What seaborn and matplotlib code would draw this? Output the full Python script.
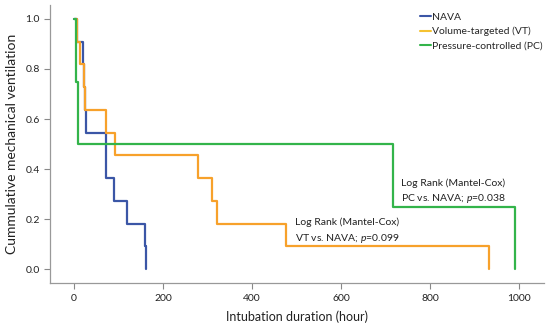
import pandas as pd
import seaborn as sns
import matplotlib.pyplot as plt
from matplotlib.lines import Line2D

# step data (time in hours, fraction still ventilated)
nava_t = [0, 6, 20, 22, 24, 27, 72, 90, 119, 160, 162]
nava_s = [1.0, 0.909, 0.818, 0.727, 0.636, 0.545, 0.364, 0.273, 0.182, 0.091, 0.0]
vt_t = [2, 7, 13, 22, 24, 72, 92, 279, 311, 322, 477, 933]
vt_s = [1.0, 0.909, 0.818, 0.727, 0.636, 0.545, 0.455, 0.364, 0.273, 0.182, 0.091, 0.0]
pc_t = [0, 5, 8, 717, 991]
pc_s = [1.0, 0.75, 0.5, 0.25, 0.0]

groups = ['NAVA', 'Volume-targeted (VT)', 'Pressure-controlled (PC)']
colors = ['#3b56a6', '#f7a12b', '#33b44a']
legend_colors = ['#3b56a6', '#f5c231', '#33b44a']

df = pd.concat([
    pd.DataFrame({'time': nava_t, 'surv': nava_s, 'group': groups[0]}),
    pd.DataFrame({'time': vt_t, 'surv': vt_s, 'group': groups[1]}),
    pd.DataFrame({'time': pc_t, 'surv': pc_s, 'group': groups[2]}),
])

sns.set_style('ticks')
plt.rcParams['font.family'] = ['Lato', 'DejaVu Sans']
plt.rcParams['mathtext.fontset'] = 'custom'
plt.rcParams['mathtext.rm'] = 'Lato'
plt.rcParams['mathtext.it'] = 'Lato:italic'

fig = plt.figure(figsize=(5.5, 3.3), dpi=100)
ax = fig.add_axes([0.091, 0.142, 0.898, 0.843])

sns.lineplot(data=df, x='time', y='surv', hue='group', palette=colors,
             drawstyle='steps-post', estimator=None, sort=False,
             linewidth=1.6, legend=False, ax=ax)

ax.set_xlim(-54, 1056)
ax.set_ylim(-0.056, 1.056)
ax.set_xticks([0, 200, 400, 600, 800, 1000])
ax.set_yticks([0.0, 0.2, 0.4, 0.6, 0.8, 1.0])
ax.set_yticklabels(['0.0', '0.2', '0.4', '0.6', '0.8', '1.0'])
ax.tick_params(labelsize=7.5, colors='#222222', length=4, width=0.8)
ax.tick_params(color='#888888')
sns.despine(ax=ax)
for s in ['left', 'bottom']:
    ax.spines[s].set_color('#999999')
    ax.spines[s].set_linewidth(0.9)

ax.set_xlabel('Intubation duration (hour)', fontsize=9, color='#222222', labelpad=6)
ax.set_ylabel('Cummulative mechanical ventilation', fontsize=10, color='#222222', labelpad=5)

ax.text(852, 0.344, 'Log Rank (Mantel-Cox)', ha='center', va='center', fontsize=7.5, color='#222222')
ax.text(852, 0.284, 'PC vs. NAVA; $p$=0.038', ha='center', va='center', fontsize=7.5, color='#222222')
ax.text(613, 0.188, 'Log Rank (Mantel-Cox)', ha='center', va='center', fontsize=7.5, color='#222222')
ax.text(613, 0.124, 'VT vs. NAVA; $p$=0.099', ha='center', va='center', fontsize=7.5, color='#222222')

handles = [Line2D([0], [0], color=c, lw=1.5) for c in legend_colors]
ax.legend(handles, groups, loc='upper left', bbox_to_anchor=(0.735, 1.0),
          frameon=False, fontsize=7.5, handlelength=1.0, handletextpad=0.1,
          labelspacing=0.5, borderaxespad=0.3)

fig.savefig('out.png', dpi=100)
